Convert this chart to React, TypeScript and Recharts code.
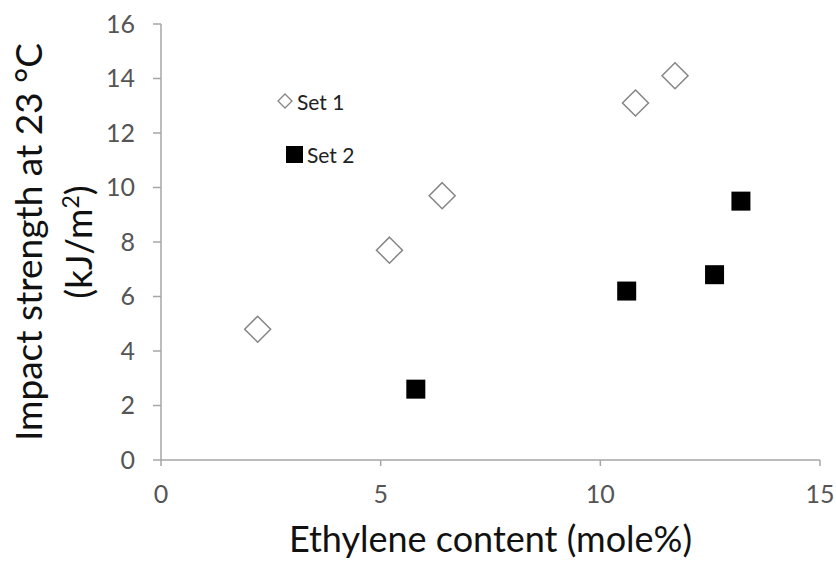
import React from "react";
import {
  ScatterChart,
  Scatter,
  XAxis,
  YAxis,
  Legend,
  Label,
} from "recharts";

const set1X = [2.2, 5.2, 6.4, 10.8, 11.7];
const set1Y = [4.8, 7.7, 9.7, 13.1, 14.1];
const set2X = [5.8, 10.6, 12.6, 13.2];
const set2Y = [2.6, 6.2, 6.8, 9.5];
const xTicks = [0, 5, 10, 15];
const yTicks = [0, 2, 4, 6, 8, 10, 12, 14, 16];

const set1 = set1X.map((x, i) => ({ x, y: set1Y[i] }));
const set2 = set2X.map((x, i) => ({ x, y: set2Y[i] }));

const FONT = "Lato, 'Open Sans', sans-serif";

function DiamondShape(props: any) {
  const { cx, cy } = props;
  const r = 13;
  return (
    <path
      d={`M${cx},${cy - r}L${cx + r},${cy}L${cx},${cy + r}L${cx - r},${cy}Z`}
      fill="#ffffff"
      stroke="#858585"
      strokeWidth={1.5}
    />
  );
}

function SquareShape(props: any) {
  const { cx, cy } = props;
  const s = 19;
  return (
    <rect x={cx - s / 2} y={cy - s / 2} width={s} height={s} fill="#000000" />
  );
}

function LegendBox() {
  return (
    <div style={{ fontFamily: FONT, fontSize: 21, color: "#222" }}>
      <div style={{ display: "flex", alignItems: "center", height: 30 }}>
        <svg width={16} height={16}>
          <path d="M8,1L15,8L8,15L1,8Z" fill="#fff" stroke="#858585" strokeWidth={1.3} />
        </svg>
        <span style={{ marginLeft: 4 }}>Set 1</span>
      </div>
      <div style={{ display: "flex", alignItems: "center", height: 30, marginTop: 23, marginLeft: 9 }}>
        <svg width={17} height={17}>
          <rect x={0} y={0} width={17} height={17} fill="#000" />
        </svg>
        <span style={{ marginLeft: 4 }}>Set 2</span>
      </div>
    </div>
  );
}

function YTitle(props: any) {
  const { viewBox } = props;
  const cy = viewBox.y + viewBox.height / 2;
  return (
    <g fontFamily={FONT} fontSize={37} fill="#111">
      <text transform={`translate(42, ${cy}) rotate(-90)`} textAnchor="middle">
        Impact strength at 23 °C
      </text>
      <text transform={`translate(92, ${cy}) rotate(-90)`} textAnchor="middle">
        (kJ/m<tspan dy={-13} fontSize={23}>2</tspan>
        <tspan dy={13}>)</tspan>
      </text>
    </g>
  );
}

function XTitle(props: any) {
  const { viewBox } = props;
  const cx = viewBox.x + viewBox.width / 2;
  return (
    <text x={cx} y={552} textAnchor="middle" fontFamily={FONT} fontSize={36} fill="#111">
      Ethylene content (mole%)
    </text>
  );
}

export default function App() {
  return (
    <div style={{ position: "absolute", left: 0, top: 0, background: "#fff" }}>
      <ScatterChart
        width={836}
        height={562}
        margin={{ top: 24, right: 16, left: 0, bottom: 0 }}
      >
        <XAxis
          type="number"
          dataKey="x"
          domain={[0, 15]}
          ticks={xTicks}
          height={102}
          tickSize={6}
          tickMargin={19}
          stroke="#a6a6a6"
          strokeWidth={1.5}
          tick={{ fill: "#555", fontSize: 25, fontFamily: FONT }}
        >
          <Label content={<XTitle />} />
        </XAxis>
        <YAxis
          type="number"
          dataKey="y"
          domain={[0, 16]}
          ticks={yTicks}
          width={161}
          tickSize={8}
          tickMargin={18}
          stroke="#a6a6a6"
          strokeWidth={1.5}
          tick={{ fill: "#555", fontSize: 25, fontFamily: FONT }}
        >
          <Label content={<YTitle />} />
        </YAxis>
        <Legend
          layout="vertical"
          verticalAlign="middle"
          align="center"
          content={<LegendBox />}
          wrapperStyle={{ left: 277, top: 86, width: 120 }}
        />
        <Scatter
          name="Set 1"
          data={set1}
          shape={<DiamondShape />}
          isAnimationActive={false}
        />
        <Scatter
          name="Set 2"
          data={set2}
          shape={<SquareShape />}
          isAnimationActive={false}
        />
      </ScatterChart>
    </div>
  );
}
